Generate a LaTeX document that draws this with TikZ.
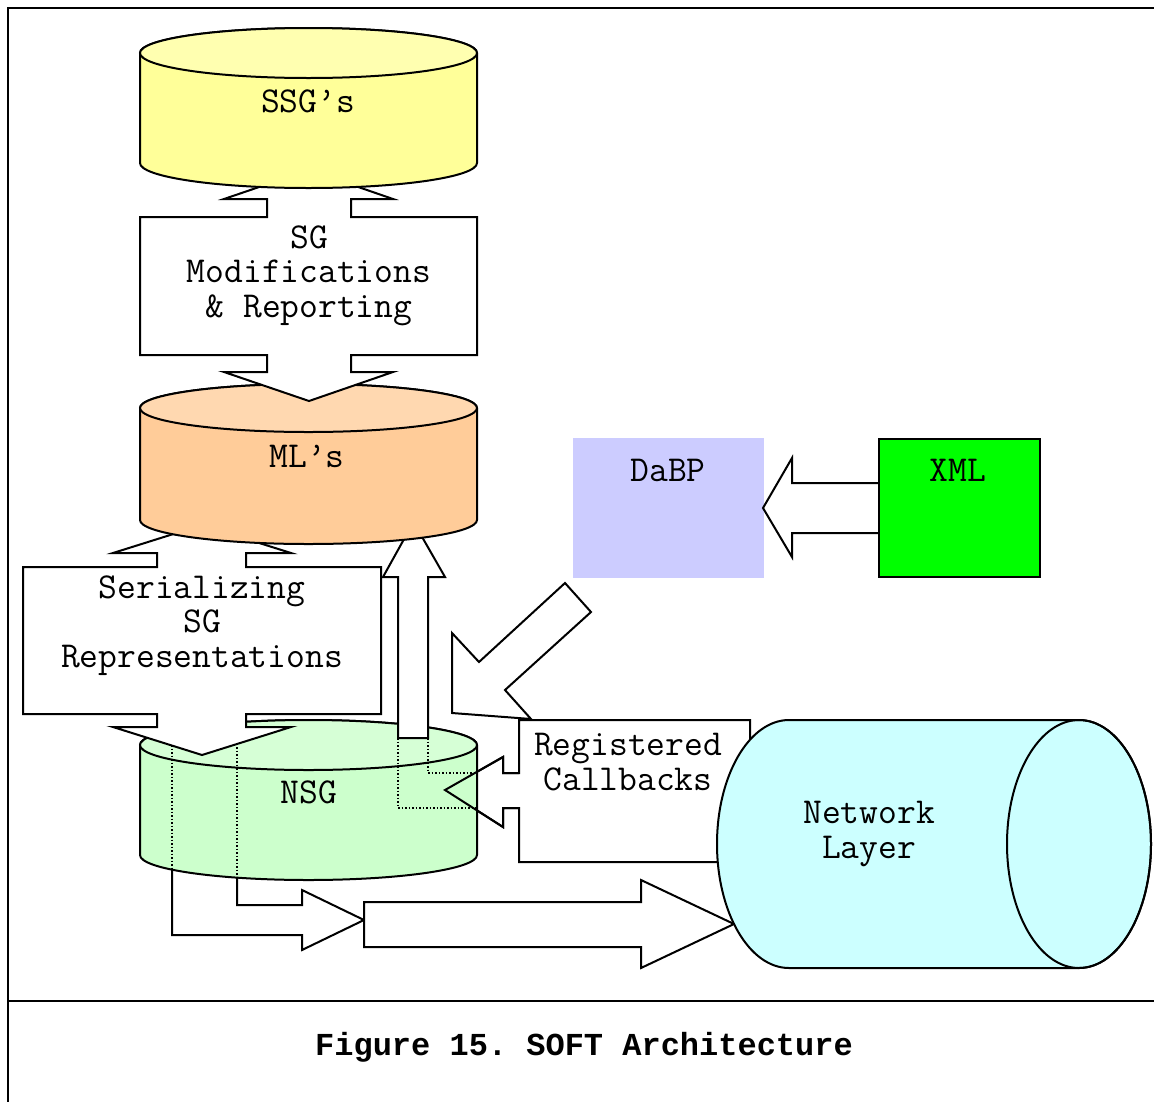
\documentclass[tikz,border=0pt]{standalone}
\usepackage{fontspec}
\newfontfamily\courb{Liberation Mono}
\definecolor{ssgbody}{HTML}{FFFF99}
\definecolor{ssgtop}{HTML}{FFFFB0}
\definecolor{mlbody}{HTML}{FFCC99}
\definecolor{mltop}{HTML}{FFD8B0}
\definecolor{nsgbody}{HTML}{CCFFCC}
\definecolor{nsgtop}{HTML}{D6FFD6}
\definecolor{netbody}{HTML}{CCFFFF}
\definecolor{dabpfill}{HTML}{CCCCFF}
\definecolor{xmlfill}{HTML}{00FF00}
\frenchspacing
\begin{document}
\begin{tikzpicture}[x=1pt,y=-1pt,line width=2pt,line join=miter,
  blk/.style={fill=white,draw=black},
  lbl/.style={font=\ttfamily\fontsize{36.5}{34.5}\selectfont,anchor=base,align=center,inner sep=0pt},
  hid/.style={line width=1.4pt,dash pattern=on 1.5pt off 2pt}]
\useasboundingbox (0,0) rectangle (1154,1101);
% frame
\draw (8,1110) -- (8,8) -- (1160,8);
\draw (8,1001) -- (1160,1001);
% bottom L-shaped arrow from NSG
\draw[blk] (172,740) -- (172,935) -- (302,935) -- (302,950) -- (364,920) -- (302,890) -- (302,905) -- (237,905) -- (237,740) -- cycle;
% diagonal arrow from DaBP
\draw[blk] (565,583) -- (591,612) -- (505,690) -- (531,719) -- (452,713) -- (452,633) -- (479,662) -- cycle;
% registered callbacks arrow
\draw[blk] (519,720) -- (750,720) -- (750,862) -- (519,862) -- (519,808) -- (503,808) -- (503,827) -- (445,790) -- (503,757) -- (503,773) -- (519,773) -- cycle;
% NSG cylinder
\draw[fill=nsgbody] (140,745) -- (140,855) arc[start angle=180,end angle=360,x radius=168.5pt,y radius=25pt] -- (477,745) arc[start angle=0,end angle=180,x radius=168.5pt,y radius=25pt] -- cycle;
\draw[fill=nsgtop] (308.5,745) ellipse[x radius=168.5pt,y radius=25pt];
% hidden lines
\draw[hid] (172,745) -- (172,869);
\draw[hid] (237,740) -- (237,877);
\draw[hid] (398,738) -- (398,808) -- (477,808);
\draw[hid] (428,738) -- (428,773) -- (477,773);
% callbacks arrow outline over NSG
\draw (519,808) -- (503,808) -- (503,827) -- (445,790) -- (503,757) -- (503,773) -- (519,773);
% serializing arrow
\draw[blk] (23,567) -- (157,567) -- (157,553) -- (113,553) -- (202,525) -- (291,553) -- (246,553) -- (246,567) -- (381,567) -- (381,714) -- (246,714) -- (246,727) -- (291,727) -- (202,755) -- (113,727) -- (157,727) -- (157,714) -- (23,714) -- cycle;
% up arrow NSG -> ML
\draw[blk] (398,738) -- (398,577) -- (383,577) -- (413.5,522) -- (445,577) -- (428,577) -- (428,738) -- cycle;
% ML cylinder
\draw[fill=mlbody] (140,408) -- (140,520) arc[start angle=180,end angle=360,x radius=168.5pt,y radius=24pt] -- (477,408) arc[start angle=0,end angle=180,x radius=168.5pt,y radius=24pt] -- cycle;
\draw[fill=mltop] (308.5,408) ellipse[x radius=168.5pt,y radius=24pt];
% SG modifications arrow
\draw[blk] (140,217) -- (267,217) -- (267,199) -- (224,199) -- (309,170) -- (393,199) -- (351,199) -- (351,217) -- (477,217) -- (477,355) -- (351,355) -- (351,372) -- (393,372) -- (309,401) -- (224,372) -- (267,372) -- (267,355) -- (140,355) -- cycle;
% SSG cylinder
\draw[fill=ssgbody] (140,53) -- (140,163) arc[start angle=180,end angle=360,x radius=168.5pt,y radius=25pt] -- (477,53) arc[start angle=0,end angle=180,x radius=168.5pt,y radius=25pt] -- cycle;
\draw[fill=ssgtop] (308.5,53) ellipse[x radius=168.5pt,y radius=25pt];
% big arrow to network layer
\draw[blk] (364,902) -- (641,902) -- (641,880) -- (734,924) -- (641,968) -- (641,947) -- (364,947) -- cycle;
% network layer cylinder
\draw[fill=netbody] (789,720) arc[start angle=90,end angle=270,x radius=72pt,y radius=124pt] -- (1079,968) arc[start angle=270,end angle=450,x radius=72pt,y radius=124pt] -- cycle;
\draw (1079,844) ellipse[x radius=72pt,y radius=124pt];
% DaBP and XML
\fill[dabpfill] (573,438) rectangle (764,578);
\draw[blk] (879,483) -- (792,483) -- (792,458) -- (763,508) -- (792,557) -- (792,533) -- (879,533) -- cycle;
\draw[fill=xmlfill] (879,439) rectangle (1040,577);
% labels
\node[lbl] (ssg) at (308,112) {SSG’s};
\node[lbl] (sgmod) at (309,317) {SG\\Modifications\\\& Reporting};
\node[lbl] (ml) at (307,467) {ML’s};
\node[lbl] (ser) at (202,667) {Serializing\\SG\\Representations};
\node[lbl] (nsg) at (309,803) {NSG};
\node[lbl] (cb) at (628,790) {Registered\\Callbacks};
\node[lbl] (dabp) at (668,481) {DaBP};
\node[lbl] (xml) at (958,481) {XML};
\node[lbl] (net) at (869,858) {Network\\Layer};
\node[lbl,font=\courb\bfseries\fontsize{32}{34.5}\selectfont] (cap) at (584,1055) {Figure 15. SOFT Architecture};
\end{tikzpicture}
\end{document}
